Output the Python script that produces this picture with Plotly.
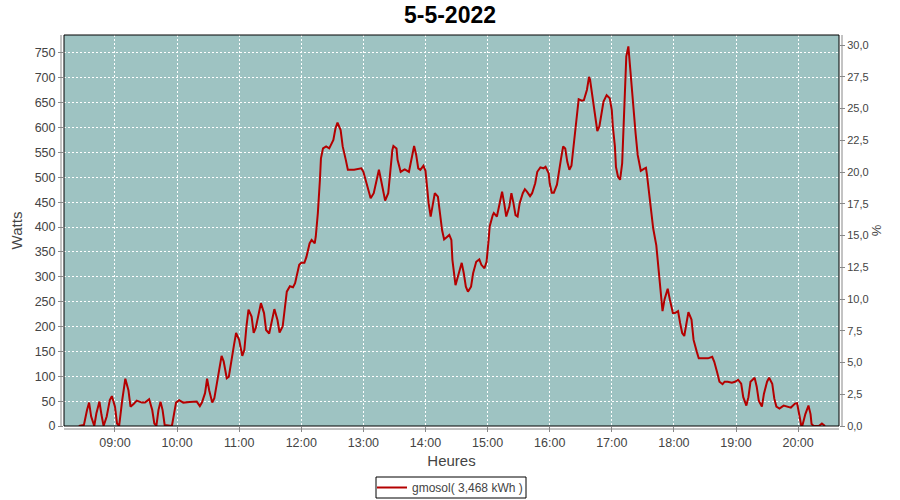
import plotly.graph_objects as go

DATE = "2022-05-05"
times = ["08:25","08:30","08:33","08:35","08:37","08:40","08:42","08:45","08:47","08:49","08:52","08:55","08:57",
"09:00","09:02","09:04","09:07","09:10","09:13","09:15","09:18","09:21","09:26","09:29","09:33","09:36","09:38","09:40",
"09:42","09:44","09:46","09:48","09:55","09:57","09:59","10:02","10:06","10:12","10:19","10:22","10:24","10:27","10:29",
"10:31","10:34","10:36","10:39","10:41","10:43","10:45","10:48","10:50","10:53","10:55","10:57","11:00","11:03","11:05",
"11:07","11:09","11:12","11:14","11:16","11:20","11:21","11:24","11:26","11:29","11:32","11:34","11:37","11:39","11:42",
"11:44","11:46","11:49","11:52","11:54","11:56","11:58","12:00","12:03","12:05","12:08","12:10","12:13","12:14","12:16",
"12:18","12:19","12:21","12:24","12:27","12:31","12:33","12:35","12:38","12:40","12:43","12:45","12:51","12:54","12:58",
"13:00","13:03","13:05","13:07","13:10","13:13","13:15","13:17","13:20","13:21","13:24","13:26","13:28","13:29","13:32",
"13:33","13:36","13:39","13:40","13:44","13:46","13:48","13:49","13:51","13:53","13:55","13:58","14:00","14:01","14:03",
"14:05","14:07","14:09","14:12","14:14","14:16","14:18","14:21","14:23","14:25","14:26","14:29","14:31","14:33","14:35",
"14:37","14:39","14:41","14:44","14:46","14:49","14:52","14:54","14:57","14:59","15:01","15:02","15:05","15:06","15:09",
"15:11","15:13","15:14","15:16","15:18","15:21","15:23","15:25","15:27","15:29","15:31","15:34","15:36","15:38","15:41",
"15:43","15:46","15:48","15:51","15:54","15:56","15:59","16:00","16:02","16:04","16:07","16:09","16:11","16:13","16:15",
"16:17","16:19","16:21","16:23","16:24","16:26","16:28","16:31","16:33","16:36","16:38","16:39","16:41","16:43","16:45",
"16:46","16:48","16:50","16:52","16:55","16:58","17:00","17:01","17:03","17:04","17:06","17:08","17:10","17:11","17:12",
"17:14","17:16","17:17","17:19","17:21","17:23","17:25","17:27","17:28","17:31","17:33","17:34","17:36","17:38","17:40",
"17:43","17:45","17:47","17:49","17:51","17:54","17:56","17:59","18:01","18:04","18:06","18:08","18:10","18:12","18:14",
"18:17","18:19","18:22","18:24","18:28","18:33","18:37","18:39","18:42","18:44","18:47","18:49","18:52","18:56","18:59",
"19:02","19:05","19:07","19:10","19:12","19:14","19:18","19:20","19:22","19:25","19:27","19:30","19:32","19:35","19:37",
"19:39","19:42","19:46","19:51","19:53","19:57","19:59","20:01","20:03","20:04","20:07","20:10","20:12","20:13","20:15",
"20:20","20:23","20:26"]
watts = [0,2,32,47,19,0,25,49,22,0,19,52,60,
39,5,0,52,95,72,39,44,51,47,47,54,32,5,0,
32,49,32,2,0,22,47,52,47,48,49,40,47,66,95,
72,47,56,93,123,141,130,96,99,133,163,187,173,141,153,
200,234,220,187,197,240,247,227,193,186,216,235,213,188,200,
240,270,281,279,287,307,324,328,328,340,367,374,367,381,428,
495,538,558,562,558,575,598,610,595,562,535,515,515,516,518,
511,488,468,458,468,498,515,495,464,453,468,521,555,563,558,
535,511,515,516,511,531,552,563,545,518,515,523,513,488,448,
421,441,468,461,431,394,375,381,384,374,334,283,297,314,328,
307,280,270,280,307,330,335,324,317,330,374,401,424,428,421,
441,464,471,448,421,441,468,448,424,421,448,468,476,471,462,
468,488,511,520,518,521,508,488,469,469,485,515,538,562,558,
531,515,523,565,588,629,657,654,655,676,702,696,666,629,598,
593,602,629,652,665,659,635,602,562,521,501,495,528,575,649,
743,763,736,682,629,588,545,521,513,517,519,505,471,437,397,
363,322,268,231,255,276,255,227,227,231,207,187,181,207,229,
214,173,150,136,136,136,139,129,106,89,84,89,89,87,89,
93,85,58,41,58,89,97,79,51,39,65,89,97,85,55,
39,35,41,39,37,45,46,24,1,0,24,41,24,4,0,
0,5,0]

series_name = "gmosol( 3,468 kWh )"
title_text = "5-5-2022"
pct_ticks = [0, 2.5, 5, 7.5, 10, 12.5, 15, 17.5, 20, 22.5, 25, 27.5, 30]
pct_labels = ["0,0", "2,5", "5,0", "7,5", "10,0", "12,5", "15,0", "17,5", "20,0", "22,5", "25,0", "27,5", "30,0"]

x = [f"{DATE} {t}" for t in times]

FONT = "Liberation Sans, Arial, sans-serif"
TXT = "#444444"

fig = go.Figure()
fig.add_trace(go.Scatter(x=x, y=watts, mode="lines", name=series_name,
                         line=dict(color="#b40000", width=2)))
# invisible trace to activate right axis
fig.add_trace(go.Scatter(x=[x[0]], y=[0], yaxis="y2", mode="lines",
                         showlegend=False, hoverinfo="skip",
                         line=dict(width=0, color="rgba(0,0,0,0)")))

PL, PT, PW, PH = 64.0, 35.0, 775.0, 391.0
def px(xp):
    return (xp - PL) / PW
def py(yp):
    return (PT + PH - yp) / PH

fig.update_layout(
    width=900, height=500,
    margin=dict(l=64, r=61, t=35, b=74, autoexpand=False),
    paper_bgcolor="white",
    plot_bgcolor="#9ec3c2",
    title=dict(text=f"<b>{title_text}</b>", x=0.5, xanchor="center",
               y=0.97, yanchor="middle", yref="container",
               font=dict(family=FONT, size=23, color="black")),
    font=dict(family=FONT, size=12, color=TXT),
    xaxis=dict(
        type="date", automargin=False,
        range=[f"{DATE} 08:10:45", f"{DATE} 20:39:30"],
        tick0=f"{DATE} 09:00", dtick=3600000, tickformat="%H:%M",
        showgrid=True, gridcolor="white", gridwidth=1, griddash="2px,2px",
        ticks="outside", ticklen=5, tickcolor="#888888",
        tickfont=dict(family=FONT, size=12.5, color=TXT),
        title=dict(text="Heures", font=dict(family=FONT, size=15, color=TXT), standoff=6),
        showline=False, zeroline=False, fixedrange=True,
    ),
    yaxis=dict(
        range=[0, 786], dtick=50, tick0=0, automargin=False,
        showgrid=True, gridcolor="white", gridwidth=1, griddash="2px,2px",
        ticks="outside", ticklen=5, tickcolor="#888888",
        tickfont=dict(family=FONT, size=12.5, color=TXT),
        title=dict(text="Watts", font=dict(family=FONT, size=15, color=TXT), standoff=8),
        showline=False, zeroline=False,
    ),
    yaxis2=dict(
        overlaying="y", side="right", range=[0, 30.8], automargin=False,
        tickmode="array", tickvals=pct_ticks, ticktext=pct_labels,
        showgrid=False, zeroline=False,
        ticks="outside", ticklen=5, tickcolor="#888888",
        tickfont=dict(family=FONT, size=11, color=TXT),
        title=dict(text="%", font=dict(family=FONT, size=13, color=TXT), standoff=4),
    ),
    legend=dict(orientation="h", x=0.5, xanchor="center", xref="container",
                y=1 - 487.5/500, yanchor="middle", yref="container",
                borderwidth=0, bgcolor="rgba(0,0,0,0)",
                font=dict(family=FONT, size=12, color=TXT), itemwidth=30),
    shapes=[
        dict(type="rect", xref="paper", yref="paper", x0=0, y0=0, x1=1, y1=1,
             line=dict(color="black", width=1)),
        dict(type="line", xref="paper", yref="paper", x0=-3/PW, x1=-3/PW, y0=0, y1=1,
             line=dict(color="#888888", width=1)),
        dict(type="line", xref="paper", yref="paper", x0=1+3/PW, x1=1+3/PW, y0=0, y1=1,
             line=dict(color="#888888", width=1)),
        dict(type="line", xref="paper", yref="paper", x0=0, x1=1, y0=-3/PH, y1=-3/PH,
             line=dict(color="#888888", width=1)),
        # legend frame
        dict(type="rect", xref="paper", yref="paper",
             x0=px(376), x1=px(526), y0=py(498), y1=py(477),
             line=dict(color="black", width=1), fillcolor="rgba(0,0,0,0)"),
    ],
    showlegend=True,
)

fig.write_html("out.html", config={"displayModeBar": False},
               post_script="document.body.style.margin='0px';document.body.style.padding='0px';")
